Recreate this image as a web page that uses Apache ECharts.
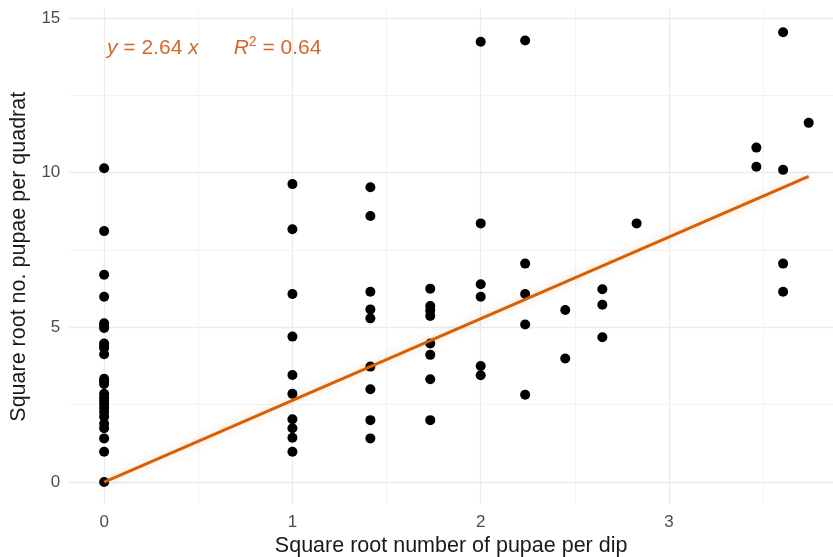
<!DOCTYPE html>
<html>
<head>
<meta charset="utf-8">
<script src="https://cdn.jsdelivr.net/npm/echarts@6/dist/echarts.min.js"></script>
<style>
  html, body { margin: 0; padding: 0; background: #fff; }
  #chart { width: 833px; height: 557px; }
</style>
</head>
<body>
<div id="chart"></div>
<script>
// sqrt(pupae per dip) for each column of points
const dipX = [0, 1, 1.414, 1.732, 2, 2.236, 2.449, 2.646, 2.828, 3.464, 3.606, 3.742];
// sqrt(pupae per quadrat), one list per column above
const quadratY = [
  [10.14, 8.11, 6.70, 5.99, 5.13, 5.04, 4.98, 4.48, 4.40, 4.33, 4.13,
   3.34, 3.26, 3.17, 2.85, 2.74, 2.63, 2.52, 2.39, 2.26, 2.11, 1.88, 1.74, 1.41, 0.98, 0],
  [9.63, 8.17, 6.08, 4.70, 3.46, 2.85, 2.03, 1.74, 1.43, 0.98],
  [9.53, 8.60, 6.15, 5.58, 5.29, 3.73, 3.00, 2.00, 1.41],
  [6.25, 5.69, 5.54, 5.37, 4.48, 4.11, 3.32, 2.00],
  [14.23, 8.36, 6.39, 5.99, 3.75, 3.45],
  [14.27, 7.06, 6.08, 5.09, 2.82],
  [5.56, 3.99],
  [6.23, 5.73, 4.68],
  [8.36],
  [10.81, 10.19],
  [14.54, 10.09, 7.06, 6.15],
  [11.61]
];
const slope = 2.64;
const rSquared = 0.64;
const minorX = [0.5, 1.5, 2.5, 3.5];
const minorY = [2.5, 7.5, 12.5];

const points = [];
dipX.forEach((x, i) => quadratY[i].forEach(y => points.push([x, y])));
const xEnd = Math.max(...dipX);
const fitLine = [[0, 0], [xEnd, slope * xEnd]];

const font = "'Liberation Sans', Arial, sans-serif";
const gridColor = '#ebebeb';
const orange = '#D95F02';

const chart = echarts.init(document.getElementById('chart'));
chart.setOption({
  animation: false,
  backgroundColor: '#fff',
  textStyle: { fontFamily: font },
  grid: { left: 69.3, right: 0, top: 9, bottom: 52.5, containLabel: false, outerBoundsMode: 'none' },
  xAxis: {
    type: 'value',
    min: -0.185,
    max: 3.871,
    splitNumber: 4,
    name: 'Square root number of pupae per dip',
    nameLocation: 'middle',
    nameGap: 31,
    nameTextStyle: { fontSize: 21.5, color: '#1a1a1a', fontFamily: font },
    axisLine: { show: false },
    axisTick: { show: false },
    axisLabel: { color: '#4d4d4d', fontSize: 17, margin: 9, showMinLabel: false, showMaxLabel: false },
    splitLine: { show: true, showMinLine: false, showMaxLine: false, lineStyle: { color: gridColor, width: 1.3 } }
  },
  yAxis: {
    type: 'value',
    min: -0.727,
    max: 15.29,
    splitNumber: 3,
    name: 'Square root no. pupae per quadrat',
    nameLocation: 'middle',
    nameGap: 25,
    nameRotate: 90,
    nameTextStyle: { fontSize: 21.5, color: '#1a1a1a', fontFamily: font },
    axisLine: { show: false },
    axisTick: { show: false },
    axisLabel: { color: '#4d4d4d', fontSize: 17, margin: 9, showMinLabel: false, showMaxLabel: false },
    splitLine: { show: true, showMinLine: false, showMaxLine: false, lineStyle: { color: gridColor, width: 1.3 } }
  },
  graphic: [{
    type: 'text',
    left: 107,
    top: 35,
    style: {
      text: '{i|y} = ' + slope.toFixed(2) + ' {i|x}      {i|R}{s|2} = ' + rSquared.toFixed(2),
      fontSize: 21,
      fontFamily: font,
      fill: '#d4682a',
      rich: {
        i: { fontStyle: 'italic', fontSize: 21, fontFamily: font, fill: '#d4682a' },
        s: { fontSize: 14, fontFamily: font, fill: '#d4682a', verticalAlign: 'top', padding: [0, 0, 12, 0] }
      }
    }
  }],
  series: [
    {
      type: 'line',
      data: [],
      z: 0,
      silent: true,
      markLine: {
        silent: true,
        z: 0,
        symbol: 'none',
        animation: false,
        label: { show: false },
        lineStyle: { color: '#f3f3f3', width: 1, type: 'solid' },
        data: minorX.map(v => ({ xAxis: v })).concat(minorY.map(v => ({ yAxis: v })))
      }
    },
    {
      type: 'scatter',
      data: points,
      symbolSize: 10,
      itemStyle: { color: '#000', opacity: 1 },
      clip: false,
      z: 2
    },
    {
      type: 'line',
      data: fitLine,
      symbol: 'none',
      z: 3,
      lineStyle: { color: orange, width: 3, shadowBlur: 8, shadowColor: 'rgba(217,95,2,0.25)' }
    }
  ]
});
</script>
</body>
</html>
